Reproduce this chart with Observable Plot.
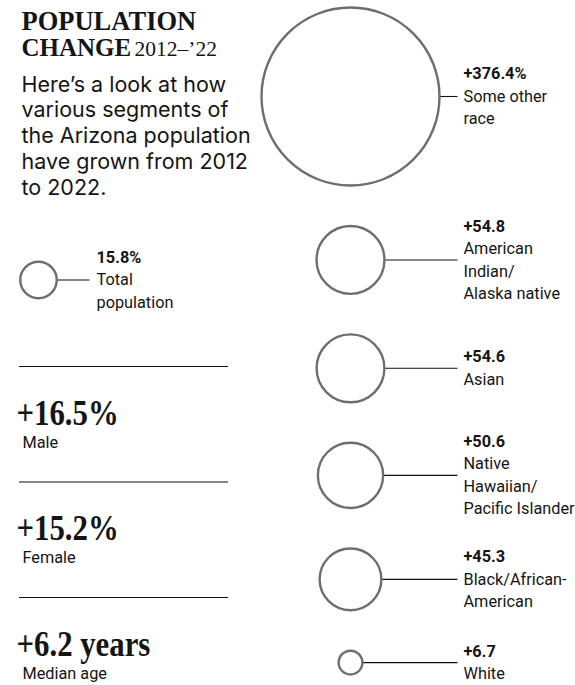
<!DOCTYPE html>
<html>
<head>
<meta charset="utf-8">
<script src="https://cdn.jsdelivr.net/npm/d3@7"></script>
<script src="https://cdn.jsdelivr.net/npm/@observablehq/plot@0.6"></script>
<style>
  html, body { margin: 0; padding: 0; background: #fff; }
  #chart svg { display: block; }
</style>
</head>
<body>
<div id="chart"></div>
<script>
// ---------- data ----------
const groups = ["Some other race", "American Indian/Alaska native", "Asian", "Native Hawaiian/Pacific Islander", "Black/African-American", "White"];
const groupLabels = ["Some other\nrace", "American\nIndian/\nAlaska native", "Asian", "Native\nHawaiian/\nPacific Islander", "Black/African-\nAmerican", "White"];
const groupChange = [376.4, 54.8, 54.6, 50.6, 45.3, 6.7];
const groupChangeLabels = ["+376.4%", "+54.8", "+54.6", "+50.6", "+45.3", "+6.7"];

const totalChange = 15.8;
const totalChangeLabel = "15.8%";
const totalLabel = "Total\npopulation";

const statValues = ["+16.5%", "+15.2%", "+6.2 years"];
const statNames = ["Male", "Female", "Median age"];

const titleLine1 = "POPULATION";
const titleLine2 = "CHANGE";
const titleYears = "2012\u2013\u201922";
const subtitle = "Here\u2019s a look at how\nvarious segments of\nthe Arizona population\nhave grown from 2012\nto 2022.";

// ---------- layout ----------
const W = 575, H = 685;
const rMax = 89;
const rScale = d3.scaleSqrt().domain([0, d3.max(groupChange)]).range([0, rMax]);
const rightCx = 350, lineEndX = 457, labelX = 463;
const topY = 7, gap = 40.5;
const FS = 16.3, LH = 22.5;           // label font size / line spacing (px)
const sansC = "Roboto, 'Noto Sans', sans-serif";
const serif = "'Liberation Serif', 'DejaVu Serif', serif";
const ink = "#151515";

// stack circles vertically
let cursor = topY;
const rows = groups.map((g, i) => {
  const r = rScale(groupChange[i]);
  const cy = cursor + r;
  cursor = cy + r + gap;
  const n = groupLabels[i].split("\n").length + 1;
  const valueBase = cy - (n - 1) * LH / 2 + 0.33 * FS;
  return {group: g, value: groupChange[i], valueLabel: groupChangeLabels[i], name: groupLabels[i],
          cx: rightCx, cy, r, valueBase, nameBase: valueBase + LH};
});

// total population circle (left)
const totalCx = 38, totalCy = 279.5, totalLineEnd = 89, totalLabelX = 96;
const totalRow = (() => {
  const r = rScale(totalChange);
  const n = totalLabel.split("\n").length + 1;
  const valueBase = totalCy - (n - 1) * LH / 2 + 0.33 * FS;
  return [{value: totalChange, valueLabel: totalChangeLabel, name: totalLabel, cx: totalCx, cy: totalCy, r,
           valueBase, nameBase: valueBase + LH}];
})();

// left stats
const ruleX1 = 19, ruleX2 = 228, ruleTop = 366, ruleStep = 115.5;
const STAT_FS = 35;
const stats = statValues.map((v, i) => ({
  value: v, name: statNames[i],
  ruleY: ruleTop + i * ruleStep,
  valueBase: ruleTop + i * ruleStep + 58,
  nameBase: ruleTop + i * ruleStep + 81
}));

// text with lineAnchor "top": baseline of first line = y + 0.71*lineHeight em
const topDy = (fs, lh = 1) => -0.71 * lh * fs;
const lhName = LH / FS;
const SUB_FS = 21.5, SUB_LH = 26;

const chart = Plot.plot({
  width: W,
  height: H,
  margin: 0,
  x: {type: "identity", axis: null},
  y: {type: "identity", axis: null},
  r: {type: "sqrt", domain: [0, d3.max(groupChange)], range: [0, rMax]},
  style: {background: "#fff", color: ink},
  marks: [
    // title
    Plot.text([titleLine1], {frameAnchor: "top-left", text: d => d, dx: 21, dy: 29 + topDy(26.5),
      lineAnchor: "top", fontFamily: serif, fontWeight: "bold", fontSize: 26.5, fill: ink, textAnchor: "start"}),
    Plot.text([titleLine2], {frameAnchor: "top-left", text: d => d, dx: 21, dy: 55 + topDy(25),
      lineAnchor: "top", fontFamily: serif, fontWeight: "bold", fontSize: 25, fill: ink, textAnchor: "start"}),
    Plot.text([titleYears], {frameAnchor: "top-left", text: d => d, dx: 134, dy: 55 + topDy(21.5),
      lineAnchor: "top", fontFamily: serif, fontSize: 21.5, letterSpacing: "1.2px", fill: ink, textAnchor: "start"}),
    // subtitle
    Plot.text([subtitle], {frameAnchor: "top-left", text: d => d, dx: 21, dy: 91 + topDy(SUB_FS, SUB_LH / SUB_FS),
      lineAnchor: "top", lineHeight: SUB_LH / SUB_FS, fontFamily: "Inter, Roboto, sans-serif", fontSize: SUB_FS,
      fill: ink, textAnchor: "start"}),

    // connectors (right)
    Plot.link(rows, {x1: d => d.cx + d.r, x2: lineEndX, y1: "cy", y2: "cy", stroke: "#111", strokeWidth: 1.1}),
    // circles (right)
    Plot.dot(rows, {x: "cx", y: "cy", r: "value", stroke: "#6e6e6e", strokeWidth: 2.4, fill: "none"}),
    // labels (right)
    Plot.text(rows, {x: labelX, y: "valueBase", text: "valueLabel", dy: topDy(FS), lineAnchor: "top",
      textAnchor: "start", fontFamily: sansC, fontWeight: "bold", fontSize: FS, fill: ink}),
    Plot.text(rows, {x: labelX, y: "nameBase", text: "name", dy: topDy(FS, lhName), lineAnchor: "top", lineHeight: lhName,
      textAnchor: "start", fontFamily: sansC, fontSize: FS, fill: ink}),

    // total population (left)
    Plot.link(totalRow, {x1: d => d.cx + d.r, x2: totalLineEnd, y1: "cy", y2: "cy", stroke: "#111", strokeWidth: 1.1}),
    Plot.dot(totalRow, {x: "cx", y: "cy", r: "value", stroke: "#6e6e6e", strokeWidth: 2.4, fill: "none"}),
    Plot.text(totalRow, {x: totalLabelX, y: "valueBase", text: "valueLabel", dy: topDy(FS), lineAnchor: "top",
      textAnchor: "start", fontFamily: sansC, fontWeight: "bold", fontSize: FS, fill: ink}),
    Plot.text(totalRow, {x: totalLabelX, y: "nameBase", text: "name", dy: topDy(FS, lhName), lineAnchor: "top", lineHeight: lhName,
      textAnchor: "start", fontFamily: sansC, fontSize: FS, fill: ink}),

    // left stats
    Plot.ruleY(stats, {y: "ruleY", x1: ruleX1, x2: ruleX2, stroke: "#111", strokeWidth: 1.1}),
    Plot.text(stats, {x: 16, y: "valueBase", text: "value", dy: topDy(STAT_FS), lineAnchor: "top", textAnchor: "start",
      fontFamily: serif, fontWeight: "bold", fontSize: STAT_FS, letterSpacing: "-0.3px", fill: ink}),
    Plot.text(stats, {x: 22, y: "nameBase", text: "name", dy: topDy(FS), lineAnchor: "top", textAnchor: "start",
      fontFamily: sansC, fontSize: FS, fill: ink})
  ]
});

// condense the big serif stat figures horizontally (style only)
d3.select(chart).selectAll("g")
  .filter(function () { return this.getAttribute("font-size") === String(STAT_FS); })
  .selectAll("text")
  .attr("transform", function () { return (this.getAttribute("transform") || "") + " scale(0.88,1)"; });

document.getElementById("chart").appendChild(chart);
</script>
</body>
</html>
